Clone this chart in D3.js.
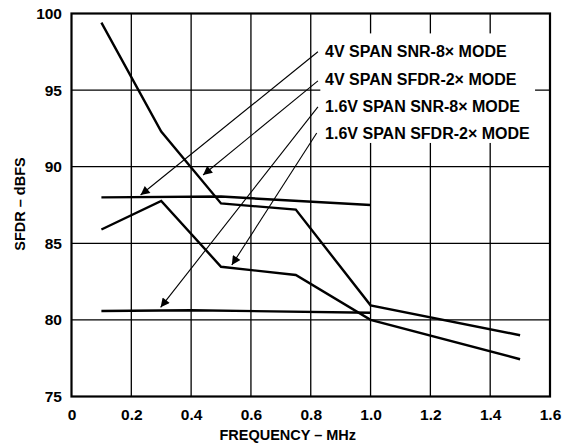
<!DOCTYPE html>
<html><head><meta charset="utf-8">
<script src="https://cdn.jsdelivr.net/npm/d3@7"></script>
<style>
html,body{margin:0;padding:0;background:#fff;}
svg text{font-family:"Liberation Sans",Arial,Helvetica,sans-serif;font-weight:bold;fill:#000;}
</style></head>
<body><svg id="chart" width="568" height="445"></svg>
<script>
// Data
const xTicks = [0, 0.2, 0.4, 0.6, 0.8, 1.0, 1.2, 1.4, 1.6];
const xTickLabels = ["0", "0.2", "0.4", "0.6", "0.8", "1.0", "1.2", "1.4", "1.6"];
const yTicks = [75, 80, 85, 90, 95, 100];

const sfdr4vFreq = [0.1, 0.3, 0.5, 0.75, 1.0, 1.5];
const sfdr4vVals = [99.4, 92.3, 87.6, 87.2, 80.95, 79.0];

const sfdr16vFreq = [0.1, 0.3, 0.5, 0.75, 1.0, 1.5];
const sfdr16vVals = [85.9, 87.76, 83.47, 82.93, 80.0, 77.43];

const snr4vFreq = [0.1, 0.5, 1.0];
const snr4vVals = [88.0, 88.05, 87.5];

const snr16vFreq = [0.1, 0.4, 1.0];
const snr16vVals = [80.58, 80.63, 80.47];

const labels = ["4V SPAN SNR-8\u00D7 MODE", "4V SPAN SFDR-2\u00D7 MODE", "1.6V SPAN SNR-8\u00D7 MODE", "1.6V SPAN SFDR-2\u00D7 MODE"];
const labelY = [97.55, 95.72, 93.96, 92.2];          // dB position of each label row
const labelX = 0.848;                                  // MHz, left edge of labels
const arrowStartX = [0.824, 0.824, 0.824, 0.82];
const arrowStartY = [97.5, 95.6, 93.9, 92.2];
const arrowTipX = [0.231, 0.44, 0.298, 0.536];
const arrowTipY = [88.15, 89.46, 80.82, 83.58];

// Layout
const svg = d3.select("#chart");
const margin = {left: 71.5, right: 18, top: 13.5, bottom: 48.5};
const W = 568, H = 445;
const x = d3.scaleLinear().domain([0, 1.6]).range([margin.left, W - margin.right]);
const y = d3.scaleLinear().domain([75, 100]).range([H - margin.bottom, margin.top]);

// Grid
const g = svg.append("g");
g.selectAll("line.vg").data(xTicks.slice(1, -1)).enter().append("line")
  .attr("x1", d => x(d)).attr("x2", d => x(d))
  .attr("y1", y(75)).attr("y2", y(100))
  .attr("stroke", "#000").attr("stroke-width", 1.3);
g.selectAll("line.hg").data(yTicks.slice(1, -1)).enter().append("line")
  .attr("x1", x(0)).attr("x2", x(1.6))
  .attr("y1", d => y(d)).attr("y2", d => y(d))
  .attr("stroke", "#000").attr("stroke-width", 1.3);

// Label background box (white, interrupts grid)
svg.append("rect")
  .attr("x", x(0.832)).attr("y", y(98.7))
  .attr("width", x(1.55) - x(0.832)).attr("height", y(91.55) - y(98.7))
  .attr("fill", "#fff");

// Curves
const line = d3.line().x(d => x(d[0])).y(d => y(d[1]));
const series = [
  d3.zip(sfdr4vFreq, sfdr4vVals),
  d3.zip(sfdr16vFreq, sfdr16vVals),
  d3.zip(snr4vFreq, snr4vVals),
  d3.zip(snr16vFreq, snr16vVals)
];
svg.selectAll("path.curve").data(series).enter().append("path")
  .attr("d", line).attr("fill", "none").attr("stroke", "#000")
  .attr("stroke-width", 2.4).attr("stroke-linejoin", "miter");

// Arrows
svg.append("defs").append("marker")
  .attr("id", "ah").attr("viewBox", "0 0 10 10").attr("refX", 10).attr("refY", 5)
  .attr("markerWidth", 14).attr("markerHeight", 9).attr("markerUnits", "userSpaceOnUse")
  .attr("orient", "auto")
  .append("path").attr("d", "M0,0 L10,5 L0,10 Z").attr("fill", "#000");
svg.selectAll("line.arrow").data(labels).enter().append("line")
  .attr("x1", (d, i) => x(arrowStartX[i])).attr("y1", (d, i) => y(arrowStartY[i]))
  .attr("x2", (d, i) => x(arrowTipX[i])).attr("y2", (d, i) => y(arrowTipY[i]))
  .attr("stroke", "#000").attr("stroke-width", 1.1)
  .attr("marker-end", "url(#ah)");

// Labels
svg.selectAll("text.lab").data(labels).enter().append("text")
  .attr("x", x(labelX)).attr("y", (d, i) => y(labelY[i]))
  .attr("dy", "0.36em").attr("font-size", 16)
  .text(d => d);

// Frame
svg.append("rect")
  .attr("x", x(0)).attr("y", y(100))
  .attr("width", x(1.6) - x(0)).attr("height", y(75) - y(100))
  .attr("fill", "none").attr("stroke", "#000").attr("stroke-width", 2.2);

// Axes
const xAxis = d3.axisBottom(x).tickValues(xTicks).tickFormat((d, i) => xTickLabels[i]).tickSize(0).tickPadding(12);
const xg = svg.append("g").attr("transform", `translate(0,${y(75)})`).call(xAxis);
xg.select(".domain").remove();
xg.selectAll("text").attr("font-size", 15.5).style("font-family", "'Liberation Sans',Arial,sans-serif").style("font-weight", "bold");

const yAxis = d3.axisLeft(y).tickValues(yTicks).tickFormat(d3.format("d")).tickSize(0).tickPadding(9.5);
const yg = svg.append("g").attr("transform", `translate(${x(0)},0)`).call(yAxis);
yg.select(".domain").remove();
yg.selectAll("text").attr("font-size", 15.5).style("font-family", "'Liberation Sans',Arial,sans-serif").style("font-weight", "bold");

// Axis titles
svg.append("text").attr("x", (x(0) + x(1.6)) / 2 - 23).attr("y", 439.5)
  .attr("text-anchor", "middle").attr("font-size", 14.5).text("FREQUENCY \u2013 MHz");
svg.append("text").attr("transform", `translate(25,${(y(75) + y(100)) / 2 - 1}) rotate(-90)`)
  .attr("text-anchor", "middle").attr("font-size", 14.5).text("SFDR \u2013 dBFS");
</script></body></html>
